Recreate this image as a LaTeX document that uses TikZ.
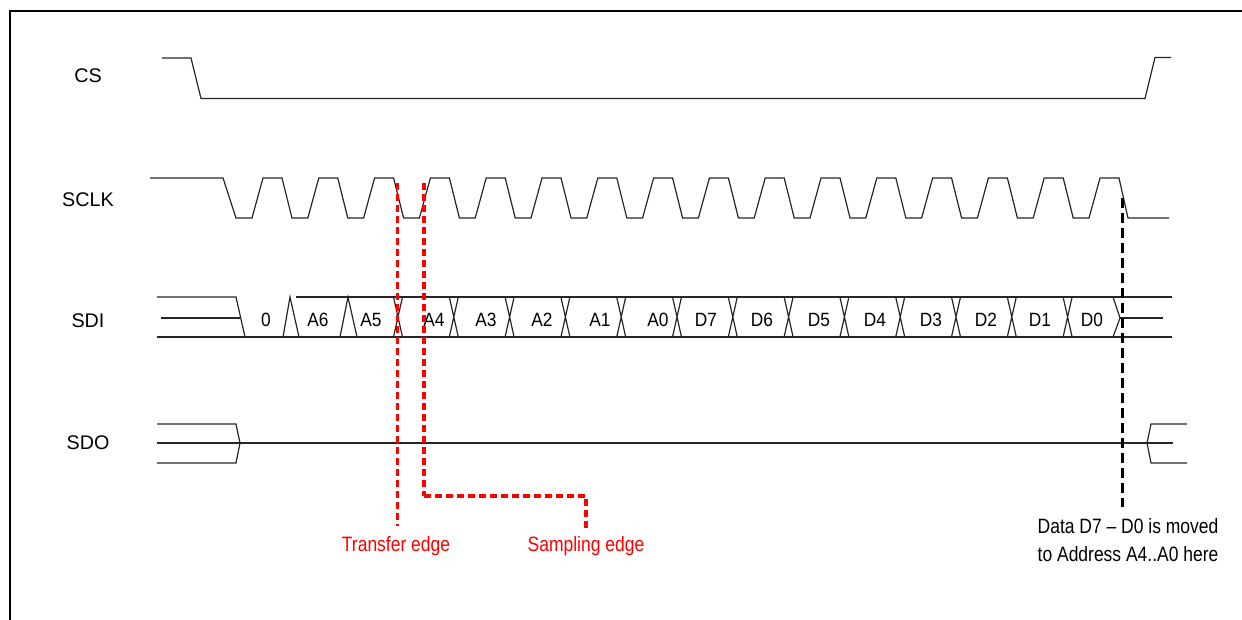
\documentclass[tikz,border=0pt]{standalone}
\usepackage{fontspec}
\setmainfont{Liberation Sans}
\newfontfamily\narrowfont[FakeStretch=0.84,Ligatures=TeX]{Liberation Sans}
\newfontfamily\busfont[FakeStretch=0.9]{Liberation Sans}
\begin{document}
\begin{tikzpicture}[x=0.75pt,y=-0.75pt,
  wave/.style={line width=0.9pt, black!85},
  frameline/.style={line width=1.5pt, black},
  reddash/.style={line width=2.4pt, red, dash pattern=on 5.25pt off 3pt},
  blackdash/.style={line width=1.9pt, black, dash pattern=on 7.5pt off 3.75pt},
  siglabel/.style={anchor=base, inner sep=0pt, font=\fontsize{14.8}{17}\selectfont},
  buslabel/.style={anchor=base, inner sep=0pt, font=\fontsize{14.4}{17}\busfont},
  note/.style={anchor=base, inner sep=0pt, font=\fontsize{15.6}{19}\narrowfont},
  rednote/.style={note, text=red}]
\useasboundingbox (0,0) rectangle (1242,620);
\clip (0,0) rectangle (1242,620);
% frame
\draw[frameline] (10,650) -- (10,11) -- (1270,11);
% signal labels
\node[siglabel] (lcs)   at (88,83)  {CS};
\node[siglabel] (lsclk) at (88,207) {SCLK};
\node[siglabel] (lsdi)  at (88,327) {SDI};
\node[siglabel] (lsdo)  at (88,449) {SDO};
% CS
\draw[wave] (162,58) -- (191,58) -- (201,98.5) -- (1145,98.5) -- (1155,57.5) -- (1171,57.5);
% SCLK
\draw[wave] (150,178) -- (223,178) -- (236,218)
  \foreach \k in {0,...,14}{ -- ({252+55.8*\k},218) -- ({263+55.8*\k},178) -- ({282+55.8*\k},178) -- ({292+55.8*\k},218)}
  -- (1089,218) -- (1100,178) -- (1119,178) -- (1128,218) -- (1169,218);
% SDI
\draw[wave] (157,297) -- (236,297) -- (245,337);
\draw[wave] (161,318) -- (240,318);
\draw[wave] (157,337) -- (1172,337);
\draw[wave] (296,297) -- (1172,297);
\draw[wave] (283,337) -- (290,297) -- (299,337);
\draw[wave] (340,337) -- (348,297) -- (357,337);
\foreach \k in {0,...,12}{
  \draw[wave] ({398+55.8*\k-4.5},297) -- ({398+55.8*\k+4.5},337)
              ({398+55.8*\k-4.5},337) -- ({398+55.8*\k+4.5},297);
}
\draw[wave] (1113,297) -- (1120,318) -- (1113,337);
\draw[wave] (1120,318) -- (1163,318);
% bus labels
\foreach \x/\t in {266/0,318/A6,371/A5,434/A4,486/A3,542/A2,600/A1,658/A0,706/D7,762/D6,819/D5,875/D4,931/D3,986/D2,1040/D1,1092/D0}{
  \node[buslabel] (b\t) at (\x,326) {\t};
}
% SDO
\draw[wave] (157,424) -- (236,424) -- (240,443) -- (236,463) -- (157,463);
\draw[wave] (157,443) -- (1173,443);
\draw[wave] (1187,424) -- (1151,424) -- (1147,443) -- (1151,463) -- (1187,463);
% annotations
\node[rednote] (te) at (396,551) {Transfer edge};
\node[rednote] (se) at (586,551) {Sampling edge};
\node[note] (d1) at (1128,533) {Data D7 – D0 is moved};
\node[note] (d2) at (1128,561) {to Address A4..A0 here};
\coordinate (t1) at (397.5,183);
\coordinate (t2) at (397.5,526);
\coordinate (s1) at (424,183);
\coordinate (s2) at (424,496);
\coordinate (s3) at (586,496);
\coordinate (s4) at (586,528);
\coordinate (k1) at (1122.7,198);
\coordinate (k2) at (1122.7,507);
\draw[reddash] (t1) -- (t2);
\draw[reddash] (s1) -- (s2);
\draw[reddash] (s2) -- (s3) -- (s4);
\draw[blackdash] (k1) -- (k2);
\end{tikzpicture}
\end{document}
